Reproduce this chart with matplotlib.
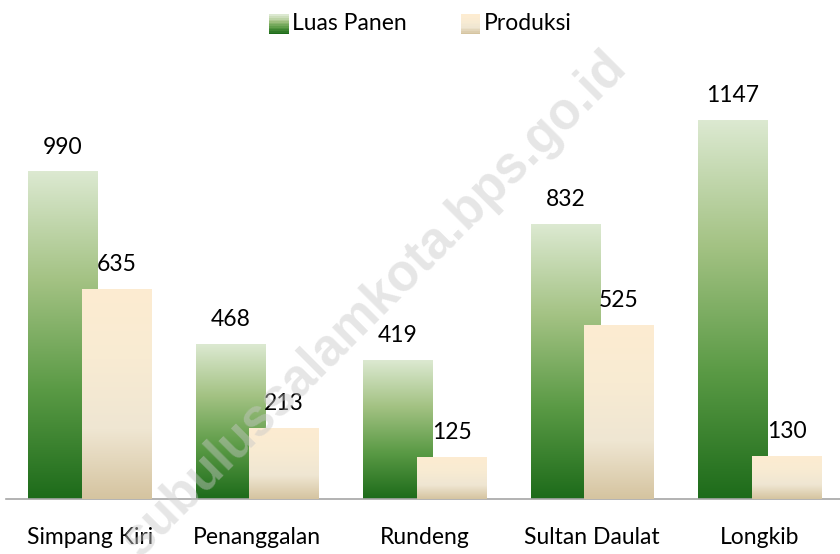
import numpy as np
import matplotlib
matplotlib.use('Agg')
from matplotlib import pyplot as plt
from matplotlib.colors import LinearSegmentedColormap
from matplotlib.legend_handler import HandlerBase
from matplotlib.patches import Rectangle

plt.rcParams['font.family'] = ['Lato', 'DejaVu Sans']

# data
kecamatan = ['Simpang Kiri', 'Penanggalan', 'Rundeng', 'Sultan Daulat', 'Longkib']
luas_panen = [990, 468, 419, 832, 1147]
produksi = [635, 213, 125, 525, 130]
series_names = ['Luas Panen', 'Produksi']

green_cmap = LinearSegmentedColormap.from_list('g', ['#1d6b1a', '#5a9a45', '#a3c283', '#dce9d1'])
beige_cmap = LinearSegmentedColormap.from_list('b', ['#d5c4a0', '#efe6d2', '#f8ebd3', '#fdecd1'])

fig = plt.figure(figsize=(8.4, 5.54), dpi=100)
ax = fig.add_axes([6 / 840, 55 / 554, 834 / 840, 444 / 554])

px = 1 / 167.5
off = 26.75 * px
w = 0.415
grad = np.linspace(0, 1, 256).reshape(-1, 1)

x = np.arange(len(kecamatan))


def gradient_bars(xs, vals, cmap, z):
    for xi, v in zip(xs, vals):
        ax.imshow(grad, cmap=cmap, origin='lower', aspect='auto',
                  extent=[xi - w / 2, xi + w / 2, 0, v], zorder=z, interpolation='bilinear')


gradient_bars(x - off, luas_panen, green_cmap, 2)
gradient_bars(x + off, produksi, beige_cmap, 3)

fs = 16.5
for xi, v in zip(x - off, luas_panen):
    ax.text(xi, v + 75, str(v), ha='center', va='center', fontsize=fs, zorder=5)
for xi, v in zip(x + off, produksi):
    ax.text(xi, v + 75, str(v), ha='center', va='center', fontsize=fs, zorder=5)

ax.set_xlim(-0.5, 4.479)
ax.set_ylim(0, 1344)
ax.set_xticks(x)
ax.set_xticklabels(kecamatan, fontsize=fs)
ax.tick_params(axis='x', length=0, pad=20)
ax.set_yticks([])
for s in ['top', 'right', 'left']:
    ax.spines[s].set_visible(False)
ax.spines['bottom'].set_color('#a6a6a6')
ax.spines['bottom'].set_linewidth(1.2)


class GradHandler(HandlerBase):
    def __init__(self, cmap):
        super().__init__()
        self.cmap = cmap

    def create_artists(self, legend, orig_handle, xdescent, ydescent, width, height, fontsize, trans):
        n = 12
        side = height * 0.95
        x0 = -xdescent + width - side
        arts = []
        for i in range(n):
            r = Rectangle((x0, -ydescent + side * i / n - 1), side, side / n + 0.3,
                          facecolor=self.cmap(i / (n - 1)), edgecolor='none', transform=trans)
            arts.append(r)
        return arts


h1 = Rectangle((0, 0), 1, 1)
h2 = Rectangle((0, 0), 1, 1)
fig.legend([h1, h2], series_names, loc='upper center', bbox_to_anchor=(0.5, 1.015), ncol=2,
           frameon=False, fontsize=fs, handlelength=0.9, handleheight=1.0,
           handletextpad=0.15, columnspacing=2.3,
           handler_map={h1: GradHandler(green_cmap), h2: GradHandler(beige_cmap)})

# watermark
fig.text(0.445, 0.45, 'subulussalamkota.bps.go.id', rotation=45, ha='center', va='center',
         fontsize=37, fontweight='bold', color='#c8c8c8', alpha=0.45, zorder=10,
         family=['Liberation Sans', 'DejaVu Sans'])

fig.savefig('out.png', dpi=100)
